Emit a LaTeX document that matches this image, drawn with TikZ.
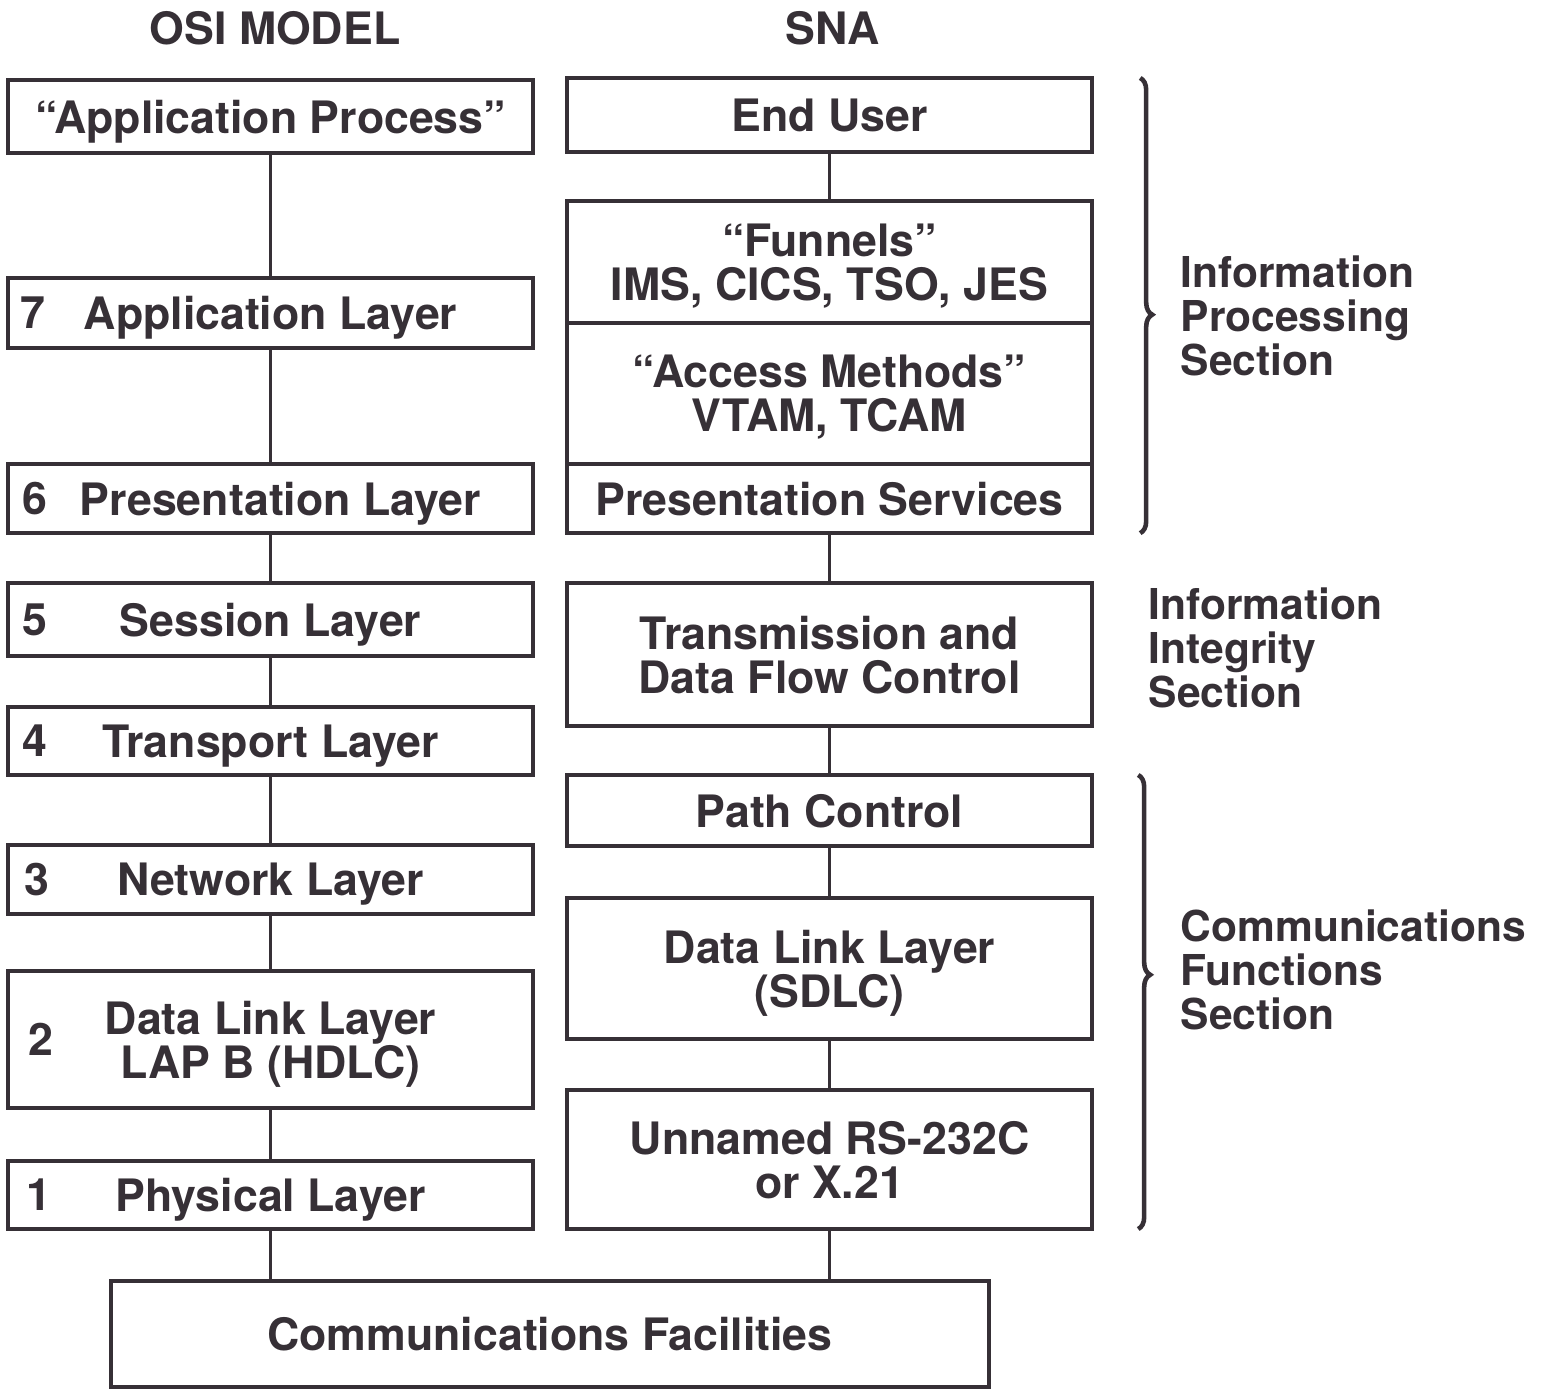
\documentclass[tikz,border=0pt]{standalone}
\usepackage{fontspec}
\setmainfont{TeX Gyre Heros}
\usetikzlibrary{positioning}
\usetikzlibrary{decorations.pathreplacing}
\definecolor{ink}{rgb}{0.21,0.19,0.21}

\begin{document}
\begin{tikzpicture}[x=0.01cm,y=-0.01cm,
    font=\bfseries\fontsize{12.7pt}{12.5pt}\selectfont]
\tikzset{
  layerbox/.style={draw=ink,line width=1.1pt,minimum width=5.25cm,
                   inner sep=0pt,outer sep=0pt,text depth=0pt,
                   align=center,text=ink},
  layernum/.style={anchor=west,inner sep=0pt,text=ink},
  link/.style={draw=ink,line width=0.6pt},
  sectlabel/.style={anchor=west,align=left,inner sep=0pt,text=ink,
                    font=\bfseries\fontsize{12.1pt}{12.5pt}\selectfont},
  sectbrace/.style={draw=ink,line width=1.3pt,decorate,
                    decoration={brace,amplitude=0.12cm,#1}}
}

\useasboundingbox (0,0) rectangle (1543,1389);

% column titles
\node [text=ink] (osi) at (275,28) {OSI MODEL};
\node [text=ink] (sna) at (833,28) {SNA};

% OSI model
\node [layerbox,minimum height=0.73cm] (ap) at (270.5,116.5) {“Application Process”};
\node [layerbox,minimum height=0.70cm] (l7) at (270.5,313)   {Application Layer};
\node [layerbox,minimum height=0.69cm] (l6) at (270.5,498.5) {\hspace*{0.2cm}Presentation Layer};
\node [layerbox,minimum height=0.73cm] (l5) at (270.5,619.5) {Session Layer};
\node [layerbox,minimum height=0.68cm] (l4) at (270.5,741)   {Transport Layer};
\node [layerbox,minimum height=0.69cm] (l3) at (270.5,879.5) {Network Layer};
\node [layerbox,minimum height=1.37cm] (l2) at (270.5,1039.5) {Data Link Layer\\LAP B (HDLC)};
\node [layerbox,minimum height=0.68cm] (l1) at (270.5,1195)  {Physical Layer};

\node [layernum] (n7) at ([xshift=0.12cm]l7.west) {7};
\node [layernum] (n6) at ([xshift=0.14cm]l6.west) {6};
\node [layernum] (n5) at ([xshift=0.14cm]l5.west) {5};
\node [layernum] (n4) at ([xshift=0.14cm]l4.west) {4};
\node [layernum] (n3) at ([xshift=0.16cm]l3.west) {3};
\node [layernum] (n2) at ([xshift=0.20cm]l2.west) {2};
\node [layernum] (n1) at ([xshift=0.18cm]l1.west) {1};

% SNA
\node [layerbox,minimum height=0.74cm] (eu)  at (829.5,115)  {End User};
\node [layerbox,minimum height=1.22cm] (fun) at (829.5,262)  {“Funnels”\\IMS, CICS, TSO, JES};
\node [layerbox,minimum height=1.41cm,below=0pt of fun] (acc) {“Access Methods”\\VTAM, TCAM};
\node [layerbox,minimum height=0.69cm,below=0pt of acc] (ps)  {Presentation Services};
\node [layerbox,minimum height=1.43cm] (tdc) at (829.5,654.5)  {Transmission and\\Data Flow Control};
\node [layerbox,minimum height=0.71cm] (pc)  at (829.5,810.5)  {Path Control};
\node [layerbox,minimum height=1.41cm] (dl)  at (829.5,968.5)  {Data Link Layer\\(SDLC)};
\node [layerbox,minimum height=1.39cm] (un)  at (829.5,1159.5) {Unnamed RS-232C\\or X.21};

% shared bottom box
\node [layerbox,minimum width=8.78cm,minimum height=1.06cm] (cf) at (550,1334)
      {Communications Facilities};

% links between the layers
\draw [link] (ap) -- (l7);
\draw [link] (l7) -- (l6);
\draw [link] (l6) -- (l5);
\draw [link] (l5) -- (l4);
\draw [link] (l4) -- (l3);
\draw [link] (l3) -- (l2);
\draw [link] (l2) -- (l1);
\draw [link] (l1) -- (l1 |- cf.north);

\draw [link] (eu) -- (fun);
\draw [link] (ps) -- (tdc);
\draw [link] (tdc) -- (pc);
\draw [link] (pc) -- (dl);
\draw [link] (dl) -- (un);
\draw [link] (un) -- (un |- cf.north);

% sections
\draw [sectbrace={aspect=0.52}] ([xshift=0.48cm]eu.north east) -- ([xshift=0.48cm]ps.south east);
\draw [sectbrace={aspect=0.44}] ([xshift=0.46cm]pc.north east) -- ([xshift=0.46cm]un.south east);

\node [sectlabel] (ips) at (1180,316) {Information\\Processing\\Section};
\node [sectlabel] (iis) at (1148,648) {Information\\Integrity\\Section};
\node [sectlabel] (cfs) at (1180,970) {Communications\\Functions\\Section};

\end{tikzpicture}
\end{document}
